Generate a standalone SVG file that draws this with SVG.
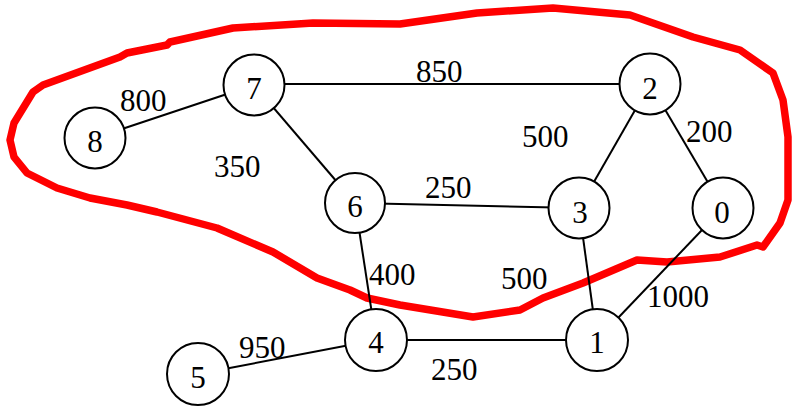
<svg xmlns="http://www.w3.org/2000/svg" width="793" height="406" viewBox="0 0 793 406">
<style>
.e{stroke:#000;stroke-width:2;fill:none}
.n circle{fill:#fff;stroke:#000;stroke-width:2}
.t{font-family:'Liberation Serif','Times New Roman',Times,serif;font-size:31px;fill:#000}
.n text{text-anchor:middle}
.hl{fill:none;stroke:#ff0000;stroke-width:7.5;stroke-linejoin:round;stroke-linecap:round}
</style>
<rect width="793" height="406" fill="#fff"/>
<path class="hl" d="M400,24 L477,13 L553,8 L630,15 L693,37 L740,50 L773,73 L783,100 L788,137 L788,200 L780,223 L763,247 L757,245 L720,257 L667,262 L637,260 L583,283 L543,298 L520,310 L473,317 L400,305 L367,298 L350,290 L317,278 L273,252 L217,228 L157,212 L127,205 L90,198 L57,188 L27,173 L14,157 L10,140 L14,123 L33,92 L43,85 L120,57 L127,53 L167,45 L170,42 L233,28 L313,23 Z"/>
<g id="edges">
<line class="e" x1="254" y1="85" x2="95" y2="138"/>
<line class="e" x1="254" y1="84" x2="650" y2="84"/>
<line class="e" x1="254" y1="85" x2="355" y2="203"/>
<line class="e" x1="650" y1="84" x2="579" y2="208"/>
<line class="e" x1="650" y1="84" x2="723" y2="208"/>
<line class="e" x1="355" y1="203" x2="579" y2="208"/>
<line class="e" x1="355" y1="203" x2="376" y2="340"/>
<line class="e" x1="376" y1="340" x2="597" y2="340"/>
<line class="e" x1="376" y1="340" x2="198" y2="374"/>
<line class="e" x1="579" y1="208" x2="597" y2="340"/>
<line class="e" x1="723" y1="208" x2="597" y2="340"/>
</g>
<g id="labels" class="t">
<text x="120" y="111">800</text>
<text x="214" y="177">350</text>
<text x="416" y="82">850</text>
<text x="522" y="147">500</text>
<text x="686" y="142">200</text>
<text x="425" y="198">250</text>
<text x="369" y="285">400</text>
<text x="501" y="289">500</text>
<text x="647" y="307">1000</text>
<text x="431" y="380">250</text>
<text x="239" y="358">950</text>
</g>
<g id="node7" class="n t"><circle cx="254" cy="85" r="30.5"/><text x="254" y="99">7</text></g>
<g id="node8" class="n t"><circle cx="95" cy="138" r="30.5"/><text x="95" y="152">8</text></g>
<g id="node2" class="n t"><circle cx="650" cy="84" r="30.5"/><text x="650" y="99">2</text></g>
<g id="node6" class="n t"><circle cx="355" cy="203" r="30"/><text x="355" y="217">6</text></g>
<g id="node3" class="n t"><circle cx="579" cy="208" r="30.5"/><text x="580" y="223">3</text></g>
<g id="node0" class="n t"><circle cx="723" cy="208" r="30.5"/><text x="722" y="223">0</text></g>
<g id="node4" class="n t"><circle cx="376" cy="340" r="31"/><text x="376" y="353">4</text></g>
<g id="node1" class="n t"><circle cx="597" cy="340" r="31"/><text x="597" y="353">1</text></g>
<g id="node5" class="n t"><circle cx="198" cy="374" r="31"/><text x="198" y="388">5</text></g>
</svg>
